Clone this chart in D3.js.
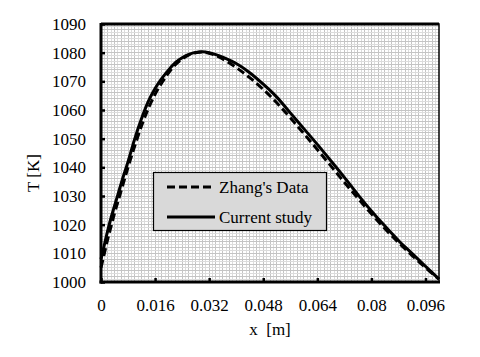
<!DOCTYPE html>
<html><head><meta charset="utf-8">
<script src="https://cdn.jsdelivr.net/npm/d3@7"></script>
<style>body{margin:0;background:#fff}</style>
</head><body>
<svg id="c" width="480" height="357"></svg>
<script>
const xVals = [0,0.001,0.002,0.003,0.004,0.005,0.006,0.008,0.010,0.012,0.014,0.016,0.018,0.020,0.022,0.024,0.026,0.028,0.030,0.032,0.034,0.036,0.038,0.040,0.044,0.048,0.052,0.056,0.060,0.064,0.068,0.072,0.076,0.080,0.084,0.088,0.092,0.096,0.100];
const currentStudy = [1008,1013,1018,1022.5,1026.5,1030.5,1034.5,1042,1050,1057,1063,1067.5,1071,1074,1076.5,1078.2,1079.4,1080.1,1080.3,1080.0,1079.3,1078.4,1077.4,1076.2,1073,1069,1064.5,1059,1053.5,1048,1042.3,1036.5,1030.5,1024.8,1019.5,1014.5,1010,1005.5,1001];
const zhangData = [1005,1010,1015,1019.5,1024,1028,1032,1040,1047.5,1054.5,1060.5,1065.5,1069.5,1073,1075.8,1077.8,1079.2,1080,1080.2,1079.8,1079,1077.8,1076.4,1074.8,1071.3,1067.2,1062.5,1057.3,1051.8,1046.2,1040.5,1034.8,1029.2,1023.8,1018.6,1013.8,1009.3,1005,1001];
const xTicks = [0,0.016,0.032,0.048,0.064,0.08,0.096];
const yTicks = [1000,1010,1020,1030,1040,1050,1060,1070,1080,1090];
const legendLabels = ["Zhang's Data","Current study"];

const svg = d3.select("#c");
const L=101,R=439,T=24,B=282;
const x = d3.scaleLinear().domain([0,0.1]).range([L,R]);
const y = d3.scaleLinear().domain([1000,1090]).range([B,T]);
const FF = "Liberation Serif";
const FS = 17;
function txt(sel){ return sel.attr("font-family",FF).attr("font-size",FS).style("font-family",'"Liberation Serif"').attr("fill","#000"); }

// minor grid
const g = svg.append("g");
g.append("rect").attr("x",L).attr("y",T).attr("width",R-L).attr("height",B-T).attr("fill","#fff");
d3.range(1,100).forEach(i=>{
  const v=i/1000;
  g.append("line").attr("x1",x(v)).attr("x2",x(v)).attr("y1",T).attr("y2",B)
   .attr("stroke", i%2===0?"#c4c4c4":"#dcdcdc").attr("stroke-width",1).attr("shape-rendering","crispEdges");
});
d3.range(1001,1090).forEach(v=>{
  g.append("line").attr("x1",L).attr("x2",R).attr("y1",y(v)).attr("y2",y(v))
   .attr("stroke", v%2===0?"#c4c4c4":"#dcdcdc").attr("stroke-width",1).attr("shape-rendering","crispEdges");
});

// curves
const line = d3.line().x((d,i)=>x(xVals[i])).y(d=>y(d)).curve(d3.curveMonotoneX);
svg.append("path").attr("d",line(zhangData)).attr("fill","none").attr("stroke","#000")
  .attr("stroke-width",3).attr("stroke-dasharray","8,4");
svg.append("path").attr("d",line(currentStudy)).attr("fill","none").attr("stroke","#000")
  .attr("stroke-width",3);

// frame
svg.append("rect").attr("x",L).attr("y",T).attr("width",R-L).attr("height",B-T)
  .attr("fill","none").attr("stroke","#000").attr("stroke-width",1.5);
svg.append("line").attr("x1",L).attr("x2",L).attr("y1",T-1).attr("y2",B+1.5).attr("stroke","#000").attr("stroke-width",3);
svg.append("line").attr("x1",L-1.5).attr("x2",R+1).attr("y1",B).attr("y2",B).attr("stroke","#000").attr("stroke-width",3);
svg.append("line").attr("x1",L).attr("x2",R).attr("y1",T).attr("y2",T).attr("stroke","#000").attr("stroke-width",3);

// axes
const xAxis = d3.axisBottom(x).tickValues(xTicks).tickSizeInner(-4).tickSizeOuter(0).tickPadding(17)
  .tickFormat(d=>String(+d.toFixed(3)));
const xa = svg.append("g").attr("transform",`translate(0,${B})`).call(xAxis);
xa.attr("font-family",null).attr("font-size",null);
xa.select(".domain").remove();
xa.selectAll(".tick line").attr("stroke","#000").attr("stroke-width",2.5);
txt(xa.selectAll("text"));

const yAxis = d3.axisLeft(y).tickValues(yTicks).tickSizeInner(-4).tickSizeOuter(0).tickPadding(15)
  .tickFormat(d3.format("d"));
const ya = svg.append("g").attr("transform",`translate(${L},0)`).call(yAxis);
ya.attr("font-family",null).attr("font-size",null);
ya.select(".domain").remove();
ya.selectAll(".tick line").attr("stroke","#000").attr("stroke-width",2.5);
txt(ya.selectAll("text"));

txt(svg.append("text").attr("x",270).attr("y",335).attr("text-anchor","middle")
  .style("white-space","pre").text("x  [m]"));
txt(svg.append("text").attr("transform","translate(39,173) rotate(-90)").attr("text-anchor","middle")
  .text("T [K]"));

// legend
const lg = svg.append("g");
lg.append("rect").attr("x",153.5).attr("y",172.5).attr("width",173).attr("height",58)
  .attr("fill","#d9d9d9").attr("stroke","#000").attr("stroke-width",1.2);
const ly=[187,217];
lg.append("line").attr("x1",167).attr("x2",215).attr("y1",ly[0]).attr("y2",ly[0])
  .attr("stroke","#000").attr("stroke-width",3).attr("stroke-dasharray","8,4");
lg.append("line").attr("x1",167).attr("x2",215).attr("y1",ly[1]).attr("y2",ly[1])
  .attr("stroke","#000").attr("stroke-width",3);
legendLabels.forEach((t,i)=>{
  txt(lg.append("text").attr("x",219).attr("y",ly[i]+6).text(t));
});
</script>
</body></html>
